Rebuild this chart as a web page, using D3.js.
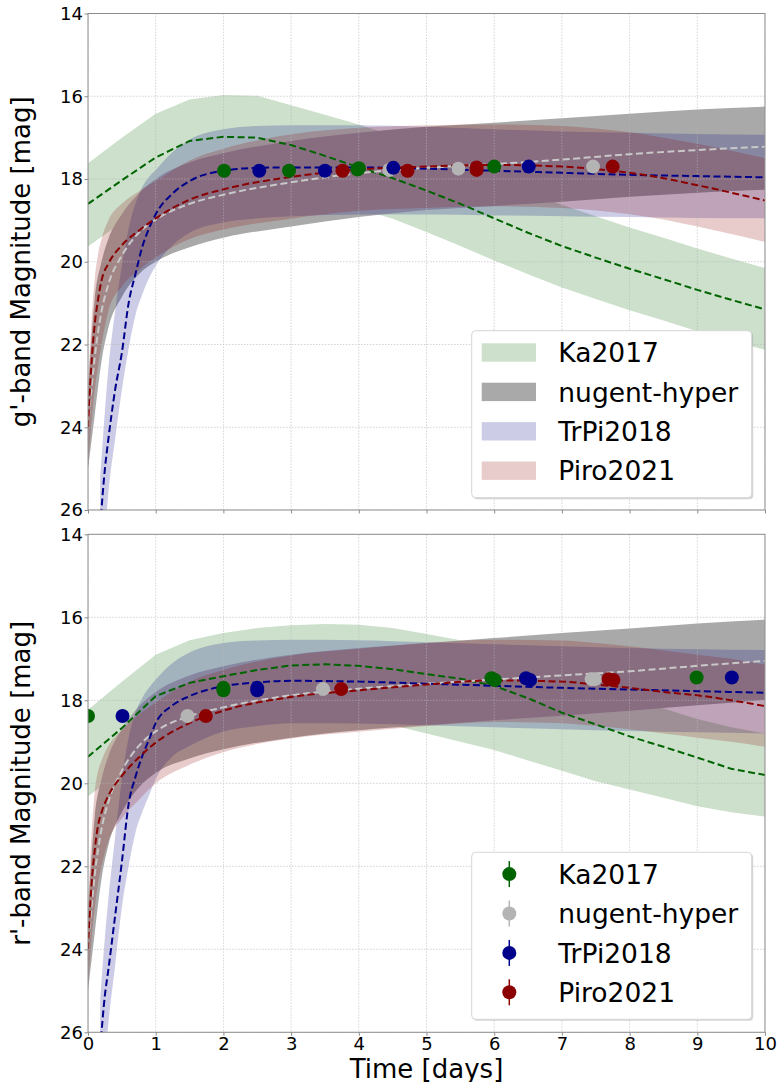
<!DOCTYPE html>
<html>
<head>
<meta charset="utf-8">
<script src="https://cdnjs.cloudflare.com/ajax/libs/d3/7.8.5/d3.min.js"></script>
<style>
body { margin: 0; background: #fff; }
svg { display: block; font-family: "DejaVu Sans", sans-serif; }
</style>
</head>
<body>
<svg width="778" height="1082"></svg>
<script>
// tick values and model names
var days = [0, 1, 2, 3, 4, 5, 6, 7, 8, 9, 10];
var mags = [14, 16, 18, 20, 22, 24, 26];
var modelNames = ["Ka2017", "nugent-hyper", "TrPi2018", "Piro2021"];

// ---- g'-band ----
var gKaT   = [0, 0.5, 1, 1.5, 2, 2.5, 3, 3.5, 4, 4.5, 5, 5.5, 6, 6.5, 7, 7.5, 8, 8.5, 9, 9.5, 10];
var gKaMag = [18.6, 18.03, 17.48, 17.08, 16.98, 17.0, 17.18, 17.44, 17.72, 17.98, 18.28, 18.6, 18.95, 19.3, 19.62, 19.9, 20.17, 20.42, 20.68, 20.92, 21.15];
var gKaHi  = [17.62, 17.0, 16.42, 16.08, 15.97, 15.99, 16.22, 16.45, 16.68, 16.95, 17.27, 17.6, 17.95, 18.3, 18.62, 18.9, 19.17, 19.42, 19.68, 19.92, 20.15];
var gKaLo  = [19.63, 19.05, 18.5, 18.1, 17.98, 18.0, 18.18, 18.44, 18.72, 18.96, 19.28, 19.62, 19.97, 20.3, 20.62, 20.9, 21.17, 21.42, 21.68, 21.92, 22.13];

var gNuT   = [0, 0.1, 0.2, 0.3, 0.5, 0.75, 1, 1.5, 2, 3, 4, 5, 6, 7, 8, 9, 10];
var gNuMag = [24.0, 22.3, 21.2, 20.55, 19.85, 19.3, 18.98, 18.6, 18.38, 18.08, 17.86, 17.73, 17.64, 17.53, 17.4, 17.3, 17.22];
var gNuHi  = [23.2, 20.9, 20.0, 19.45, 18.85, 18.35, 18.0, 17.6, 17.38, 17.08, 16.88, 16.74, 16.64, 16.53, 16.42, 16.32, 16.25];
var gNuLo  = [25.0, 23.7, 22.4, 21.6, 20.85, 20.3, 20.0, 19.65, 19.42, 19.15, 18.92, 18.75, 18.65, 18.55, 18.43, 18.33, 18.26];

var gTrT   = [0.18, 0.25, 0.3, 0.4, 0.5, 0.6, 0.7, 0.8, 0.9, 1.0, 1.25, 1.5, 2, 2.5, 3, 4, 5, 6, 7, 8, 9, 10];
var gTrMag = [26.4, 25.0, 24.3, 23.1, 22.2, 21.0, 20.3, 19.65, 19.2, 18.85, 18.35, 18.05, 17.8, 17.73, 17.72, 17.72, 17.75, 17.8, 17.85, 17.9, 17.93, 17.96];
var gTrHi  = [25.2, 23.6, 22.6, 21.2, 20.1, 19.2, 18.6, 18.2, 17.95, 17.78, 17.35, 17.05, 16.8, 16.72, 16.7, 16.7, 16.74, 16.8, 16.85, 16.88, 16.91, 16.93];
var gTrLo  = [27.5, 26.6, 25.6, 24.3, 23.1, 22.1, 21.3, 20.8, 20.4, 20.1, 19.6, 19.3, 19.05, 18.95, 18.9, 18.86, 18.86, 18.88, 18.9, 18.92, 18.94, 18.95];

var gPiT   = [0, 0.05, 0.1, 0.15, 0.2, 0.3, 0.5, 0.75, 1, 1.5, 2, 3, 4, 5, 6, 7, 7.5, 8, 8.5, 9, 9.5, 10];
var gPiMag = [24.0, 22.5, 21.5, 20.9, 20.45, 20.05, 19.6, 19.25, 18.95, 18.5, 18.25, 17.95, 17.77, 17.7, 17.66, 17.7, 17.76, 17.85, 17.98, 18.15, 18.33, 18.52];
var gPiHi  = [23.0, 21.5, 20.4, 19.8, 19.45, 19.0, 18.6, 18.3, 18.05, 17.55, 17.27, 16.92, 16.76, 16.7, 16.68, 16.72, 16.78, 16.87, 17.0, 17.15, 17.32, 17.5];
var gPiLo  = [25.0, 23.9, 23.1, 22.5, 22.0, 21.2, 20.6, 20.2, 19.9, 19.45, 19.22, 18.96, 18.77, 18.7, 18.66, 18.7, 18.76, 18.85, 18.98, 19.15, 19.33, 19.52];

// observed g'-band points
var gKaObsT = [2.01, 2.97, 3.98, 4.0, 6.0];
var gKaObsM = [17.8, 17.8, 17.77, 17.74, 17.7];
var gNuObsT = [4.45, 5.47, 7.46];
var gNuObsM = [17.78, 17.75, 17.7];
var gTrObsT = [2.53, 3.5, 4.51, 6.51];
var gTrObsM = [17.8, 17.8, 17.73, 17.7];
var gPiObsT = [3.76, 4.72, 5.74, 5.74, 7.75];
var gPiObsM = [17.8, 17.8, 17.72, 17.78, 17.7];

// ---- r'-band ----
var rKaT   = [0, 0.5, 1, 1.5, 2, 2.5, 3, 3.5, 4, 4.5, 5, 5.5, 6, 6.5, 7, 7.5, 8, 8.5, 9, 9.5, 10];
var rKaMag = [19.36, 18.67, 17.9, 17.58, 17.42, 17.27, 17.16, 17.13, 17.17, 17.25, 17.37, 17.48, 17.65, 17.95, 18.3, 18.58, 18.87, 19.12, 19.38, 19.65, 19.8];
var rKaHi  = [18.23, 17.55, 16.9, 16.55, 16.38, 16.26, 16.19, 16.16, 16.18, 16.26, 16.4, 16.55, 16.75, 17.05, 17.35, 17.65, 17.95, 18.2, 18.45, 18.65, 18.8];
var rKaLo  = [20.32, 19.7, 19.0, 18.75, 18.6, 18.5, 18.45, 18.45, 18.5, 18.6, 18.8, 19.0, 19.2, 19.45, 19.7, 19.95, 20.15, 20.35, 20.55, 20.7, 20.8];

var rNuT   = [0, 0.1, 0.2, 0.3, 0.5, 0.75, 1, 1.5, 2, 3, 4, 5, 6, 7, 8, 9, 10];
var rNuMag = [24.0, 22.2, 21.1, 20.45, 19.7, 19.1, 18.75, 18.38, 18.17, 17.88, 17.72, 17.6, 17.5, 17.4, 17.3, 17.17, 17.05];
var rNuHi  = [23.2, 20.8, 19.9, 19.35, 18.7, 18.15, 17.8, 17.4, 17.18, 16.9, 16.74, 16.62, 16.5, 16.38, 16.27, 16.15, 16.06];
var rNuLo  = [25.0, 23.6, 22.3, 21.5, 20.7, 20.1, 19.75, 19.4, 19.18, 18.9, 18.72, 18.6, 18.48, 18.37, 18.25, 18.12, 17.99];

var rTrT   = [0.18, 0.25, 0.3, 0.4, 0.5, 0.6, 0.7, 0.8, 0.9, 1.0, 1.25, 1.5, 2, 2.5, 3, 4, 5, 6, 7, 8, 9, 10];
var rTrMag = [26.4, 25.1, 24.5, 23.2, 21.9, 20.5, 19.85, 19.35, 18.95, 18.55, 18.12, 17.9, 17.66, 17.57, 17.53, 17.55, 17.6, 17.65, 17.7, 17.74, 17.78, 17.82];
var rTrHi  = [25.2, 23.7, 22.8, 21.3, 19.9, 18.9, 18.3, 17.95, 17.7, 17.5, 17.1, 16.85, 16.62, 16.56, 16.54, 16.55, 16.6, 16.65, 16.7, 16.74, 16.77, 16.79];
var rTrLo  = [27.5, 26.7, 25.8, 24.4, 23.0, 22.0, 21.2, 20.7, 20.3, 19.9, 19.35, 19.1, 18.75, 18.62, 18.55, 18.56, 18.6, 18.65, 18.7, 18.74, 18.77, 18.8];

var rPiT   = [0, 0.05, 0.1, 0.15, 0.2, 0.3, 0.5, 0.75, 1, 1.5, 2, 3, 4, 5, 6, 7, 7.5, 8, 8.5, 9, 9.5, 10];
var rPiMag = [24.0, 22.5, 21.6, 21.0, 20.7, 20.3, 19.82, 19.38, 19.02, 18.55, 18.25, 17.92, 17.76, 17.62, 17.52, 17.55, 17.62, 17.7, 17.8, 17.88, 18.0, 18.14];
var rPiHi  = [23.0, 21.3, 20.2, 19.7, 19.45, 19.1, 18.72, 18.35, 18.05, 17.55, 17.27, 16.92, 16.76, 16.62, 16.54, 16.56, 16.62, 16.7, 16.8, 16.9, 17.0, 17.14];
var rPiLo  = [25.0, 23.8, 23.0, 22.4, 22.0, 21.4, 20.85, 20.4, 20.0, 19.55, 19.25, 18.92, 18.76, 18.62, 18.52, 18.55, 18.62, 18.7, 18.8, 18.9, 19.0, 19.12];

// observed r'-band points
var rKaObsT = [0.0, 2.0, 2.0, 5.96, 6.01, 8.99];
var rKaObsM = [18.38, 17.7, 17.76, 17.47, 17.51, 17.45];
var rNuObsT = [1.47, 3.47, 7.44, 7.49];
var rNuObsM = [18.38, 17.73, 17.49, 17.49];
var rTrObsT = [0.51, 2.5, 2.5, 6.47, 6.53, 9.51];
var rTrObsM = [18.38, 17.7, 17.76, 17.47, 17.51, 17.45];
var rPiObsT = [1.74, 3.74, 7.69, 7.76];
var rPiObsM = [18.38, 17.73, 17.49, 17.51];

// styles per model (same order as modelNames)
var styles = [
    {band: "#006400", bandAlpha: 0.2, line: "#006400", dot: "#006400", curve: d3.curveLinear},
    {band: "#a9a9a9", bandAlpha: 1.0, line: "#c8c8c8", dot: "#b4b4b4", curve: d3.curveMonotoneX},
    {band: "#000080", bandAlpha: 0.2, line: "#00008b", dot: "#00008b", curve: d3.curveMonotoneX},
    {band: "#8b0000", bandAlpha: 0.2, line: "#8b0000", dot: "#8b0000", curve: d3.curveMonotoneX}
];

function model(i, t, mag, hi, lo, obsT, obsM) {
    return {name: modelNames[i], style: styles[i], t: t, mag: mag, hi: hi, lo: lo, obsT: obsT, obsM: obsM};
}

var panels = [
    {id: "g", label: "g'-band Magnitude [mag]", top: 13.5, bottom: 510, xLabels: false, legend: "band",
     models: [model(0, gKaT, gKaMag, gKaHi, gKaLo, gKaObsT, gKaObsM),
              model(1, gNuT, gNuMag, gNuHi, gNuLo, gNuObsT, gNuObsM),
              model(2, gTrT, gTrMag, gTrHi, gTrLo, gTrObsT, gTrObsM),
              model(3, gPiT, gPiMag, gPiHi, gPiLo, gPiObsT, gPiObsM)]},
    {id: "r", label: "r'-band Magnitude [mag]", top: 534.3, bottom: 1032.3, xLabels: true, legend: "points",
     models: [model(0, rKaT, rKaMag, rKaHi, rKaLo, rKaObsT, rKaObsM),
              model(1, rNuT, rNuMag, rNuHi, rNuLo, rNuObsT, rNuObsM),
              model(2, rTrT, rTrMag, rTrHi, rTrLo, rTrObsT, rTrObsM),
              model(3, rPiT, rPiMag, rPiHi, rPiLo, rPiObsT, rPiObsM)]}
];

var left = 88, right = 765;
var spineColor = "#8c8c8c";
var svg = d3.select("svg");
var x = d3.scaleLinear().domain([0, 10]).range([left, right]);

function drawPanel(p) {
    var y = d3.scaleLinear().domain([14, 26]).range([p.top, p.bottom]);
    var g = svg.append("g");

    g.append("clipPath").attr("id", "clip-" + p.id)
        .append("rect")
        .attr("x", left).attr("y", p.top)
        .attr("width", right - left).attr("height", p.bottom - p.top);

    var plot = g.append("g").attr("clip-path", "url(#clip-" + p.id + ")");

    // uncertainty bands
    p.models.forEach(function(m) {
        var rows = m.t.map(function(t, i) { return {t: t, hi: m.hi[i], lo: m.lo[i]}; });
        var area = d3.area()
            .x(function(d) { return x(d.t); })
            .y0(function(d) { return y(d.lo); })
            .y1(function(d) { return y(d.hi); })
            .curve(m.style.curve);
        plot.append("path")
            .attr("d", area(rows))
            .attr("fill", m.style.band)
            .attr("fill-opacity", m.style.bandAlpha);
    });

    // grid over the fills, like matplotlib
    plot.selectAll(".vgrid").data(days).enter()
        .append("line")
        .attr("x1", function(d) { return x(d); }).attr("x2", function(d) { return x(d); })
        .attr("y1", p.top).attr("y2", p.bottom)
        .attr("stroke", "#b8b8b8").attr("stroke-width", 0.8)
        .attr("stroke-dasharray", "1.5,1.5").attr("opacity", 0.75);
    plot.selectAll(".hgrid").data(mags).enter()
        .append("line")
        .attr("x1", left).attr("x2", right)
        .attr("y1", function(d) { return y(d); }).attr("y2", function(d) { return y(d); })
        .attr("stroke", "#b8b8b8").attr("stroke-width", 0.8)
        .attr("stroke-dasharray", "1.5,1.5").attr("opacity", 0.75);

    // model curves
    p.models.forEach(function(m) {
        var rows = m.t.map(function(t, i) { return {t: t, m: m.mag[i]}; });
        var line = d3.line()
            .x(function(d) { return x(d.t); })
            .y(function(d) { return y(d.m); })
            .curve(m.style.curve);
        plot.append("path")
            .attr("d", line(rows))
            .attr("fill", "none")
            .attr("stroke", m.style.line)
            .attr("stroke-width", 2)
            .attr("stroke-dasharray", "7,3.5");
    });

    // observations
    p.models.forEach(function(m) {
        var pts = m.obsT.map(function(t, i) { return [t, m.obsM[i]]; });
        plot.selectAll(null).data(pts).enter()
            .append("circle")
            .attr("cx", function(d) { return x(d[0]); })
            .attr("cy", function(d) { return y(d[1]); })
            .attr("r", 7)
            .attr("fill", m.style.dot);
    });

    // frame
    g.append("rect")
        .attr("x", left).attr("y", p.top)
        .attr("width", right - left).attr("height", p.bottom - p.top)
        .attr("fill", "none").attr("stroke", spineColor).attr("stroke-width", 1);

    var yAxis = d3.axisLeft(y).tickValues(mags).tickSize(3.5).tickPadding(1.5).tickFormat(d3.format("d"));
    var ya = g.append("g").attr("transform", "translate(" + left + ",0)").call(yAxis);
    ya.select(".domain").remove();
    ya.selectAll("line").attr("stroke", spineColor);
    ya.selectAll("text").attr("font-size", 18).attr("fill", "#000").attr("font-family", "DejaVu Sans");

    var xAxis = d3.axisBottom(x).tickValues(days).tickSize(3.5).tickPadding(1)
        .tickFormat(p.xLabels ? d3.format("d") : "");
    var xa = g.append("g").attr("transform", "translate(0," + p.bottom + ")").call(xAxis);
    xa.select(".domain").remove();
    xa.selectAll("line").attr("stroke", spineColor);
    xa.selectAll("text").attr("font-size", 18).attr("fill", "#000").attr("font-family", "DejaVu Sans");

    var cy = (p.top + p.bottom) / 2;
    g.append("text")
        .attr("transform", "translate(30," + cy + ") rotate(-90)")
        .attr("text-anchor", "middle")
        .attr("font-size", 26)
        .text(p.label);

    drawLegend(p, g);
}

function drawLegend(p, g) {
    var boxY = p.legend == "band" ? 330.7 : 852.3;
    var lg = g.append("g");
    // soft shadow, then opaque frame
    lg.append("rect")
        .attr("x", 473.2).attr("y", boxY + 1.5)
        .attr("width", 280).attr("height", 167)
        .attr("rx", 4)
        .attr("fill", "#888").attr("fill-opacity", 0.35);
    lg.append("rect")
        .attr("x", 471.7).attr("y", boxY)
        .attr("width", 280).attr("height", 167)
        .attr("rx", 4)
        .attr("fill", "#fff")
        .attr("stroke", "#d6d6d6").attr("stroke-width", 1);

    p.models.forEach(function(m, i) {
        var cy = boxY + 21.8 + i * 39.4;
        if (p.legend == "band") {
            lg.append("rect")
                .attr("x", 481.7).attr("y", cy - 9.2)
                .attr("width", 54.3).attr("height", 18.4)
                .attr("fill", m.style.band)
                .attr("fill-opacity", m.style.bandAlpha);
        } else {
            lg.append("line")
                .attr("x1", 509.3).attr("x2", 509.3)
                .attr("y1", cy - 13).attr("y2", cy + 13)
                .attr("stroke", m.style.dot).attr("stroke-width", 1.5);
            lg.append("circle")
                .attr("cx", 509.3).attr("cy", cy).attr("r", 7)
                .attr("fill", m.style.dot);
        }
        lg.append("text")
            .attr("x", 558.3).attr("y", cy + 9.6)
            .attr("font-size", 26.5)
            .text(m.name);
    });
}

panels.forEach(drawPanel);

svg.append("text")
    .attr("x", (left + right) / 2).attr("y", 1077.5)
    .attr("text-anchor", "middle")
    .attr("font-size", 26)
    .text("Time [days]");
</script>
</body>
</html>
